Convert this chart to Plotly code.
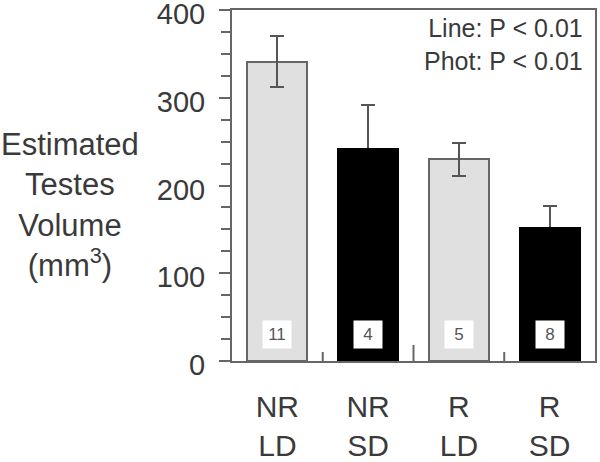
import plotly.graph_objects as go

# data
groups = ["NR<br>LD", "NR<br>SD", "R<br>LD", "R<br>SD"]
volume = [341, 242, 230, 152]
sem = [29, 50, 19, 25]
n_animals = [11, 4, 5, 8]
dark = [False, True, False, True]

FONT = "Liberation Sans, Arial, sans-serif"
TXT = "#3a3a3a"
EDGE = "#666666"

xs = list(range(1, len(groups) + 1))
fills = ["black" if d else "#e0e0e0" for d in dark]
edges = ["black" if d else EDGE for d in dark]


def err_carrier(mask):
    # invisible bars that only carry the error bars
    return go.Bar(
        x=[x for x, m in zip(xs, mask) if m],
        y=[v for v, m in zip(volume, mask) if m],
        width=0.66,
        marker=dict(color="rgba(0,0,0,0)", line=dict(width=0)),
        error_y=dict(type="data",
                     array=[e for e, m in zip(sem, mask) if m],
                     color="#555555", thickness=2, width=7),
        hoverinfo="skip", showlegend=False,
    )


fig = go.Figure()
# dark bars: error bar first so the bar hides the lower half
fig.add_trace(err_carrier(dark))
fig.add_trace(go.Bar(
    x=xs, y=volume, width=0.66,
    marker=dict(color=fills, line=dict(color=edges, width=2)),
    showlegend=False,
))
fig.add_trace(err_carrier([not d for d in dark]))

# n per group in small white boxes
for x, n in zip(xs, n_animals):
    fig.add_annotation(x=x, y=30, text=str(n), showarrow=False,
                       bgcolor="white", width=26, height=25,
                       font=dict(family=FONT, size=17, color="#555555"))

# separator ticks between groups, the middle one longer
for i in range(1, len(groups)):
    big = i == len(groups) // 2
    fig.add_shape(type="line", xref="x", yref="y", x0=i + 0.5, x1=i + 0.5,
                  ysizemode="pixel", yanchor=0,
                  y0=-17 if big else -8, y1=16 if big else 9,
                  line=dict(color=EDGE, width=2))

fig.add_annotation(xref="paper", yref="paper", x=1, y=1, xanchor="right",
                   yanchor="top", xshift=-10, yshift=-2, align="right",
                   showarrow=False,
                   text="Line: P < 0.01<br>Phot: P < 0.01",
                   font=dict(family=FONT, size=25, color=TXT))

fig.add_annotation(xref="paper", yref="paper", x=-0.446, y=0.445,
                   xanchor="center", yanchor="middle", showarrow=False,
                   text="Estimated<br>Testes<br>Volume<br>(mm<sup>3</sup>)",
                   font=dict(family=FONT, size=31, color=TXT))

fig.update_layout(
    template="none",
    width=600, height=462,
    margin=dict(l=232, r=5, t=10, b=101),
    paper_bgcolor="white", plot_bgcolor="white",
    barmode="overlay", bargap=0,
    font=dict(family=FONT, size=30, color=TXT),
)
fig.update_xaxes(range=[0.5, 4.5], tickvals=xs, ticktext=groups, ticks="",
                 showline=True, linecolor=EDGE, linewidth=2, mirror=True,
                 showgrid=False, zeroline=False, ticklabelstandoff=18,
                 automargin=False,
                 tickfont=dict(family=FONT, size=30, color=TXT))
fig.update_yaxes(range=[0, 400], tickvals=[0, 100, 200, 300, 400],
                 ticks="outside", ticklen=11, tickwidth=2, tickcolor=EDGE,
                 minor=dict(dtick=25, ticks="outside", ticklen=9,
                            tickwidth=2, tickcolor=EDGE, showgrid=False),
                 showline=True, linecolor=EDGE, linewidth=2, mirror=True,
                 showgrid=False, zeroline=False, ticklabelstandoff=8,
                 ticklabelshift=4,
                 automargin=False, ticklabeloverflow="allow",
                 tickfont=dict(family=FONT, size=29, color=TXT))

# the page's default body margin would push the figure 8px down/right
fig.write_html("out.html", config={"displayModeBar": False},
               post_script="document.body.style.margin='0';")
